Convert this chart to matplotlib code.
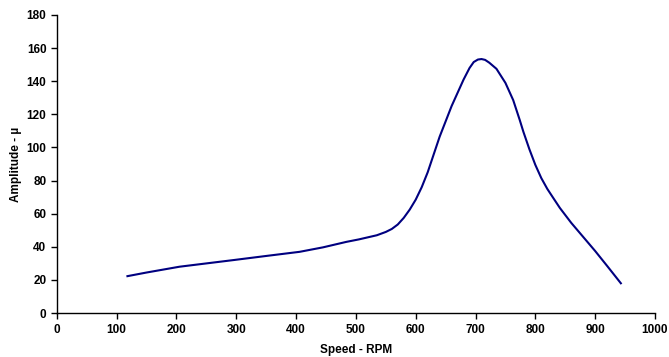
import matplotlib
matplotlib.use("Agg")
import matplotlib.pyplot as plt

speed = [118, 150, 205, 250, 295, 350, 406, 445, 484, 505, 535, 550, 560, 570, 580, 590, 600, 610, 620, 640, 660, 680, 690, 697, 704, 710, 716, 723, 735, 750, 763, 774, 780, 790, 800, 810, 820, 830, 841, 860, 880, 900, 920, 943]
amplitude = [22.3, 24.5, 28, 30, 32, 34.5, 37, 39.7, 43, 44.5, 47, 49, 50.8, 53.5, 57.5, 62.5, 68.5, 76, 85, 106.5, 125, 141, 148, 151.6, 153.1, 153.4, 152.9, 151.2, 147.5, 139, 128.6, 116.5, 109.5, 99, 89.5, 81.5, 75, 69.5, 63.5, 54.5, 46, 37.5, 28.5, 18]

xticks = [0, 100, 200, 300, 400, 500, 600, 700, 800, 900, 1000]
yticks = [0, 20, 40, 60, 80, 100, 120, 140, 160, 180]

plt.rcParams['font.family'] = ['Liberation Sans', 'DejaVu Sans']
fig = plt.figure(figsize=(6.69, 3.57), dpi=100)
ax = fig.add_axes([0.085, 0.123, 0.894, 0.835])
ax.plot(speed, amplitude, color='#000080', linewidth=1.5, solid_joinstyle='round')
ax.set_xlim(0, 1000)
ax.set_ylim(0, 180)
ax.set_xticks(xticks)
ax.set_yticks(yticks)
for s in ['top', 'right']:
    ax.spines[s].set_visible(False)
for s in ['left', 'bottom']:
    ax.spines[s].set_linewidth(1.0)
ax.tick_params(direction='out', length=4, width=1, labelsize=8.5)
for lab in ax.get_xticklabels() + ax.get_yticklabels():
    lab.set_fontweight('bold')
ax.set_xlabel('Speed - RPM', fontsize=8.5, fontweight='bold', labelpad=6)
ax.set_ylabel('Amplitude - µ', fontsize=8.5, fontweight='bold', labelpad=3)
fig.savefig('out.png', dpi=100)
